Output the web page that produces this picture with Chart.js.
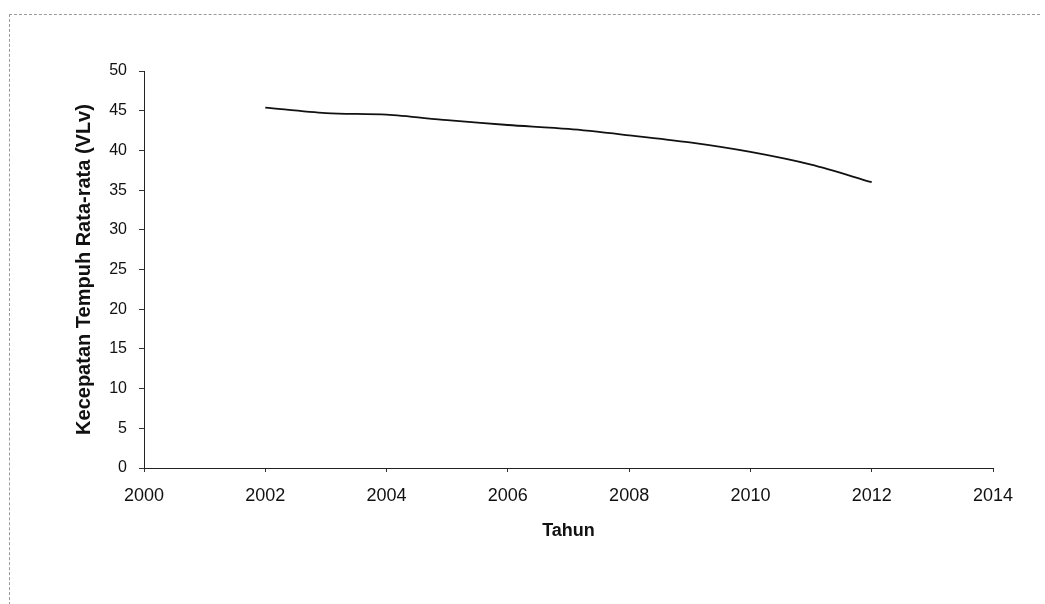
<!DOCTYPE html>
<html>
<head>
<meta charset="utf-8">
<script src="https://cdn.jsdelivr.net/npm/chart.js@4/dist/chart.umd.min.js"></script>
<style>
  html, body { margin: 0; padding: 0; background: #fff; }
  #wrap { position: relative; width: 1045px; height: 604px; }
  #frame { position: absolute; left: 9px; top: 14px; width: 1030px; height: 600px;
           border-top: 1px dashed #9a9a9a; border-left: 1px dashed #9a9a9a; pointer-events: none; }
  canvas { position: absolute; left: 0; top: 0; }
</style>
</head>
<body>
<div id="wrap">
  <canvas id="c" width="1045" height="604"></canvas>
  <div id="frame"></div>
</div>
<script>
// Average travel speed per year
const years = [2002, 2003, 2004, 2005, 2006, 2007, 2008, 2009, 2010, 2011, 2012];
const speed = [45.4, 44.7, 44.5, 43.8, 43.2, 42.7, 41.9, 41.0, 39.8, 38.2, 36.0];
const xTicks = [2000, 2002, 2004, 2006, 2008, 2010, 2012, 2014];
const yTicks = [0, 5, 10, 15, 20, 25, 30, 35, 40, 45, 50];

const font = 'Arial, "Liberation Sans", sans-serif';

new Chart(document.getElementById('c'), {
  type: 'line',
  data: {
    datasets: [{
      data: years.map((y, i) => ({ x: y, y: speed[i] })),
      borderColor: '#111',
      borderWidth: 1.8,
      pointRadius: 0,
      tension: 0.3,
      fill: false
    }]
  },
  options: {
    responsive: false,
    animation: false,
    layout: { padding: { left: 72, right: 52, top: 71, bottom: 62 } },
    plugins: { legend: { display: false }, tooltip: { enabled: false } },
    scales: {
      x: {
        type: 'linear',
        min: xTicks[0],
        max: xTicks[xTicks.length - 1],
        afterBuildTicks: s => { s.ticks = xTicks.map(v => ({ value: v })); },
        afterFit: s => { s.height = 74; },
        grid: { color: 'rgba(0,0,0,0)', tickColor: '#333', tickLength: 4 },
        border: { color: '#222', width: 1 },
        ticks: { color: '#111', font: { family: font, size: 18 }, padding: 13, maxRotation: 0,
                 callback: v => String(v) },
        title: { display: true, text: 'Tahun', color: '#111',
                 font: { family: font, size: 18, weight: 'bold' }, padding: { top: 0, bottom: 0 } }
      },
      y: {
        min: yTicks[0],
        max: yTicks[yTicks.length - 1],
        afterBuildTicks: s => { s.ticks = yTicks.map(v => ({ value: v })); },
        afterFit: s => { s.width = 72; },
        grid: { color: 'rgba(0,0,0,0)', tickColor: '#333', tickLength: 5 },
        border: { color: '#222', width: 1 },
        ticks: { color: '#111', font: { family: font, size: 16 }, padding: 12 },
        title: { display: true, text: 'Kecepatan Tempuh Rata-rata (VLv)', color: '#111',
                 font: { family: font, size: 20, weight: 'bold' }, padding: { top: 0, bottom: 0 } }
      }
    }
  }
});
</script>
</body>
</html>
